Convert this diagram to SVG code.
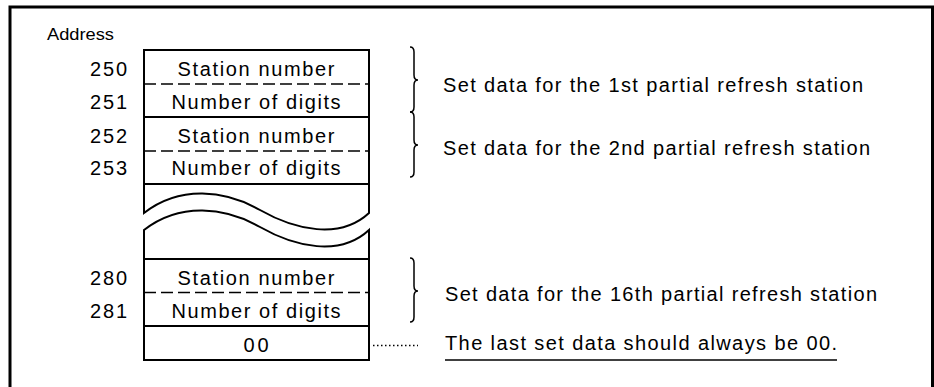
<svg xmlns="http://www.w3.org/2000/svg" width="934" height="387" viewBox="0 0 934 387">
<style>
.t{font-family:"Liberation Sans",Arial,sans-serif;font-size:20px;fill:#000}
.s{font-size:16.5px}
.a{text-anchor:end}
.c{text-anchor:middle}
.ln{fill:none;stroke:#000;stroke-width:2}
.ds{fill:none;stroke:#000;stroke-width:1.6;stroke-dasharray:12 5}
.br{fill:none;stroke:#000;stroke-width:1.5}
</style>
<rect width="934" height="387" fill="#fff"/>
<path d="M10,387 V7 H932.5 V387" fill="none" stroke="#000" stroke-width="3"/>
<text class="t s" x="47" y="40" textLength="67" lengthAdjust="spacingAndGlyphs">Address</text>

<g id="upper-block">
<rect class="ln" x="144" y="50" width="225" height="134"/>
<line class="ln" x1="144" y1="117" x2="369" y2="117"/>
<line class="ds" x1="144" y1="84" x2="369" y2="84"/>
<line class="ds" x1="144" y1="151" x2="369" y2="151"/>
</g>
<g id="row-250"><text class="t a" x="127" y="76" textLength="37" lengthAdjust="spacing">250</text><text class="t c" x="256" y="76" textLength="157" lengthAdjust="spacing">Station number</text></g>
<g id="row-251"><text class="t a" x="127" y="109" textLength="37" lengthAdjust="spacing">251</text><text class="t c" x="256" y="109" textLength="169" lengthAdjust="spacing">Number of digits</text></g>
<g id="row-252"><text class="t a" x="127" y="142.5" textLength="37" lengthAdjust="spacing">252</text><text class="t c" x="256" y="142.5" textLength="157" lengthAdjust="spacing">Station number</text></g>
<g id="row-253"><text class="t a" x="127" y="175" textLength="37" lengthAdjust="spacing">253</text><text class="t c" x="256" y="175" textLength="169" lengthAdjust="spacing">Number of digits</text></g>

<g id="break">
<path class="ln" d="M144,184 V213 C180,185 225,190 260,210 S340,240 369,213 V184"/>
<path class="ln" d="M144,259 V230 C180,202 225,207 260,227 S340,257 369,230 V259"/>
</g>

<g id="lower-block">
<rect class="ln" x="144" y="259" width="225" height="101"/>
<line class="ln" x1="144" y1="326" x2="369" y2="326"/>
<line class="ds" x1="144" y1="292.5" x2="369" y2="292.5"/>
</g>
<g id="row-280"><text class="t a" x="127" y="285" textLength="37" lengthAdjust="spacing">280</text><text class="t c" x="256" y="285" textLength="157" lengthAdjust="spacing">Station number</text></g>
<g id="row-281"><text class="t a" x="127" y="317.5" textLength="37" lengthAdjust="spacing">281</text><text class="t c" x="256" y="317.5" textLength="169" lengthAdjust="spacing">Number of digits</text></g>
<g id="row-00"><text class="t c" x="256" y="351.5" textLength="25" lengthAdjust="spacing">00</text></g>

<g id="braces">
<path class="br" d="M410,47 Q414,47 414,52 L414,75 Q414,80 418,80 Q414,80 414,85 L414,107 Q414,112 410,112"/>
<path class="br" d="M410,112 Q414,112 414,117 L414,140 Q414,145 418,145 Q414,145 414,150 L414,172 Q414,177 410,177"/>
<path class="br" d="M410,258 Q414,258 414,263 L414,286 Q414,291 418,291 Q414,291 414,296 L414,317 Q414,322 410,322"/>
</g>
<g id="connectors">
<line x1="373" y1="345.5" x2="418" y2="345.5" stroke="#000" stroke-width="1.3" stroke-dasharray="1.5 2.5"/>
</g>

<g id="label-1"><text class="t" x="443" y="92" textLength="420" lengthAdjust="spacing">Set data for the 1st partial refresh station</text></g>
<g id="label-2"><text class="t" x="443" y="155" textLength="427" lengthAdjust="spacing">Set data for the 2nd partial refresh station</text></g>
<g id="label-16"><text class="t" x="445" y="301" textLength="432" lengthAdjust="spacing">Set data for the 16th partial refresh station</text></g>
<g id="note"><text class="t" x="445" y="350" textLength="392" lengthAdjust="spacing">The last set data should always be 00.</text>
<line x1="445" y1="360" x2="837" y2="360" stroke="#000" stroke-width="1.5"/></g>
</svg>
